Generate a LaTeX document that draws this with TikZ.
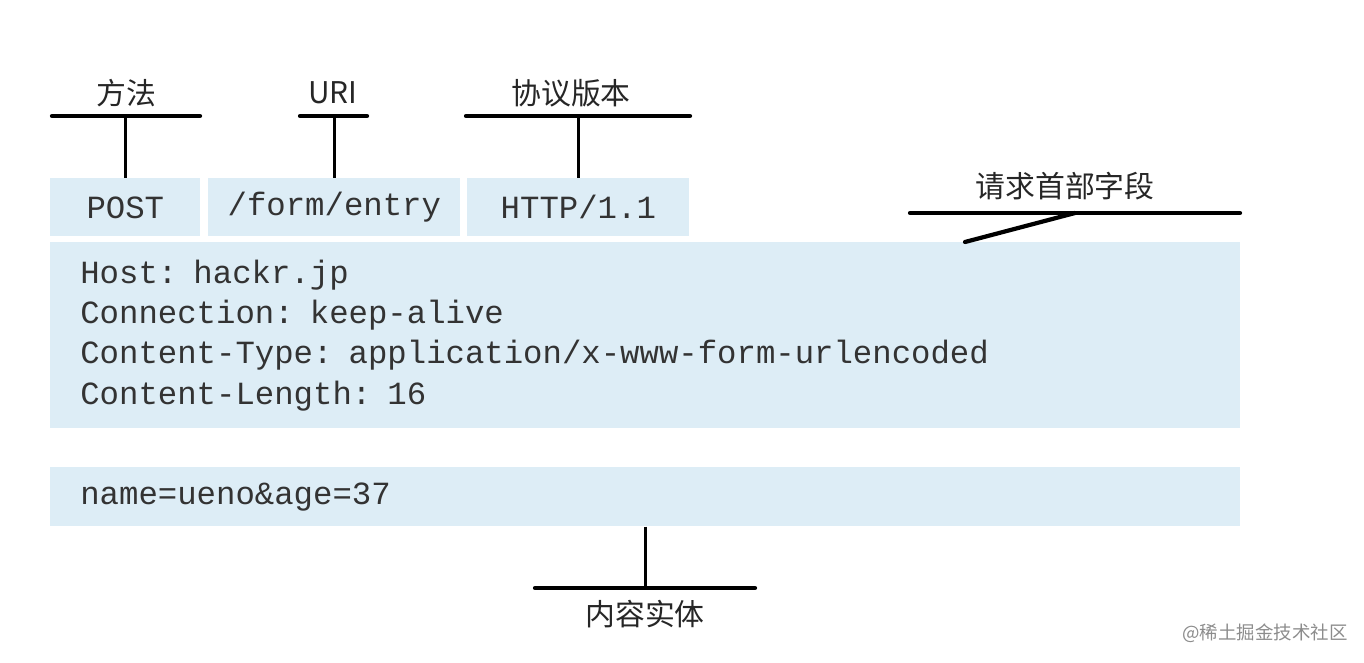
\documentclass[tikz,border=0pt]{standalone}
\usepackage{fontspec}
\setmonofont{Liberation Mono}
\newfontfamily\cjk{Noto Sans CJK SC}
\definecolor{boxblue}{RGB}{221,237,246}
\begin{document}
\begin{tikzpicture}[x=0.02cm, y=-0.02cm,
        field/.style={fill=boxblue, inner sep=0pt, minimum height=1.16cm, anchor=north west, font=\fontsize{18.4}{23}\selectfont\ttfamily, text=black!80},
        block/.style={fill=boxblue, inner ysep=0pt, inner xsep=0.6cm, anchor=north west, align=left, text width=22.6cm, font=\fontsize{18.4}{23}\selectfont\ttfamily, text=black!80},
        tag/.style={font=\cjk\fontsize{17}{20}\selectfont, text=black!85},
        bar/.style={line width=2.4pt, line cap=round},
        stem/.style={line width=1.8pt}
    ]
    \useasboundingbox (0,0) rectangle (1364,662);

    % Request line
    \node[field, minimum width=3cm] (post) at (50,178) {POST};
    \node[field, minimum width=5.04cm] (uri) at (208,178) {/form/entry};
    \node[field, minimum width=4.44cm] (version) at (467,178) {HTTP/1.1};

    % Header fields
    \node[block, minimum height=3.72cm] (headers) at (50,242) {Host: hackr.jp\\Connection: keep-alive\\Content-Type: application/x-www-form-urlencoded\\Content-Length: 16};

    % Message body
    \node[block, minimum height=1.18cm] (body) at (50,467) {name=ueno\&age=37};

    % Labels on top
    \node[tag] (methodtag) at (126,93) {方法};
    \node[tag] (uritag) at (333,93) {URI};
    \node[tag] (versiontag) at (571,93) {协议版本};
    \coordinate (methodL) at (52,116);
    \coordinate (methodR) at (200,116);
    \coordinate (uriL) at (300,116);
    \coordinate (uriR) at (367,116);
    \coordinate (versionL) at (466,116);
    \coordinate (versionR) at (690,116);
    \draw[bar] (methodL) -- (methodR);
    \draw[bar] (uriL) -- (uriR);
    \draw[bar] (versionL) -- (versionR);
    \draw[stem] (post.north) -- (post.north |- methodL);
    \draw[stem] (uri.north) -- (uri.north |- uriL);
    \draw[stem] (version.north) -- (version.north |- versionL);

    % Header label
    \node[tag] (headertag) at (1065,186) {请求首部字段};
    \coordinate (headerL) at (910,213);
    \coordinate (headerR) at (1240,213);
    \coordinate (headerjoin) at (1075,213);
    \coordinate (headertip) at (965,242);
    \draw[bar] (headerL) -- (headerR);
    \draw[bar] (headertip) -- (headerjoin);

    % Body label
    \node[tag] (bodytag) at (645,614) {内容实体};
    \coordinate (bodyL) at (535,588);
    \coordinate (bodyR) at (755,588);
    \draw[bar] (bodyL) -- (bodyR);
    \draw[stem] (body.south) -- (body.south |- bodyL);

    % Watermark
    \node[font=\cjk\fontsize{10.5}{12}\selectfont, text=black!45] (mark) at (1265,633) {@稀土掘金技术社区};

\end{tikzpicture}
\end{document}
